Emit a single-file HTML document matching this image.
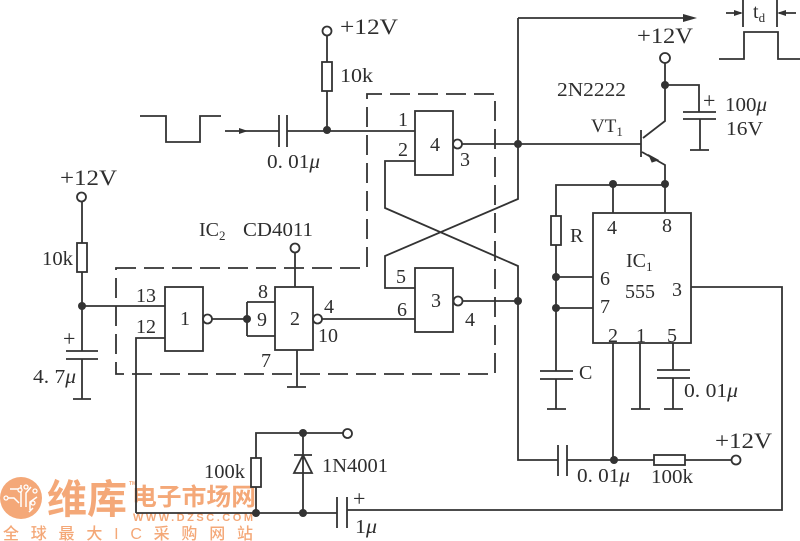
<!DOCTYPE html>
<html><head><meta charset="utf-8"><style>
html,body{margin:0;padding:0;background:#fff}
svg{display:block}
text{font-family:"Liberation Serif","Noto Serif CJK SC",serif;fill:#2e2e2e;font-size:20px}
.w text{font-family:"Liberation Sans","Noto Sans CJK SC",sans-serif;fill:#f4a878;font-weight:700;stroke:none}
.c{text-anchor:middle}
.l{fill:none;stroke:#333;stroke-width:1.8}
.o{fill:#fff;stroke:#333;stroke-width:1.8}
.d{fill:none;stroke:#333;stroke-width:1.8;stroke-dasharray:20 8}
</style></head><body>
<svg width="800" height="541" viewBox="0 0 800 541" xmlns="http://www.w3.org/2000/svg">
<rect width="800" height="541" fill="#fff"/>
<!-- watermark -->
<g class="w">
<circle cx="21" cy="498" r="21" fill="#f4a878"/>
<path d="M5 498h9l5 5M10 489l8 0 3 4v14M21 485v22M31 487l-5 6v14M37 497l-7 5v8M33 508l-4 4" fill="none" stroke="#fff" stroke-width="1.5"/>
<g fill="#f4a878" stroke="#fff" stroke-width="1.3"><circle cx="6" cy="498" r="2"/><circle cx="20" cy="490" r="2"/><circle cx="26" cy="487" r="2"/><circle cx="35" cy="491" r="2"/><circle cx="33" cy="503" r="2"/></g>
<text x="47" y="513" style="font-size:40px" textLength="80" lengthAdjust="spacingAndGlyphs">维库</text>
<text x="132" y="505" style="font-size:24px" textLength="124" lengthAdjust="spacingAndGlyphs">电子市场网</text>
<text x="129" y="485" style="font-size:5px">TM</text>
<text x="133" y="521" style="font-size:11px" textLength="120">WWW.DZSC.COM</text>
<text x="3" y="539" style="font-size:16px;font-weight:500" textLength="250">全球最大IC采购网站</text>
</g>
<!-- dashed box -->
<path class="d" d="M116 268H367V94H495V374H116Z"/>
<!-- pulses -->
<path class="l" d="M140 116H166V142H200V116H221"/>
<path class="l" d="M719 59H744V32H778V59H800M743 0V27M777 0V27M726 13H741M779 13H796"/>
<path d="M743 13l-9-3v6zM777 13l9-3v6z" fill="#333"/>
<!-- input -->
<path class="l" d="M225 131H279M287 131H415M279 115V147M287 115V147"/>
<path d="M248 131l-9-3v6z" fill="#333"/>
<path class="l" d="M327 36V62M327 91V130"/>
<rect class="o" x="322" y="62" width="10" height="29"/>
<circle class="o" cx="327" cy="31" r="4.5"/>
<circle cx="327" cy="130" r="4" fill="#333"/>
<!-- gates -->
<rect class="o" x="415" y="111" width="38" height="64"/>
<rect class="o" x="415" y="268" width="38" height="64"/>
<rect class="o" x="165" y="287" width="38" height="64"/>
<rect class="o" x="275" y="287" width="38" height="63"/>
<path class="l" d="M462 144H641M415 161H385V208L518 266V460H558M567 460H654M685 460H731M518 18V199L385 256V288H415M463 301H518M322 319H415M212 319H247M247 302V336M247 302H275M247 336H275M82 306H165M136 513V338H165M295 253V287M297 350V387M287 387H306M518 18H690"/>
<path d="M697 18l-14-4v8z" fill="#333"/>
<circle class="o" cx="457.500" cy="144" r="4.500"/>
<circle class="o" cx="458" cy="301" r="4.500"/>
<circle class="o" cx="207.500" cy="319" r="4.500"/>
<circle class="o" cx="317.500" cy="319" r="4.500"/>
<circle class="o" cx="295" cy="248" r="4.500"/>
<g fill="#333"><circle cx="518" cy="144" r="4"/><circle cx="518" cy="301" r="4"/><circle cx="247" cy="319" r="4"/><circle cx="82" cy="306" r="4"/></g>
<!-- left supply -->
<path class="l" d="M82 202V243M82 272V351M66 351H98M66 359H98M82 359V399M73 399H91"/>
<rect class="o" x="77" y="243" width="10" height="29"/>
<circle class="o" cx="81.500" cy="197" r="4.500"/>
<!-- transistor -->
<path class="l" d="M641 130V157M643 138L665 121V63M665 85H699V112M683 112H716M683 119H716M700 119V150M690 150H709M642 152L665 165V213"/>
<path d="M649 155L658 160 652 162Z" fill="#333" stroke="#333"/>
<circle class="o" cx="665" cy="58" r="5"/>
<g fill="#333"><circle cx="665" cy="85" r="4"/><circle cx="665" cy="184" r="4"/><circle cx="613" cy="184" r="4"/></g>
<!-- 555 -->
<rect class="o" x="593" y="213" width="98" height="130"/>
<path class="l" d="M556 216V185H665M613 185V213M556 245V371M556 277H593M556 308H593M540 371H573M540 379H573M556 379V409M547 409H566M640 343V409M631 409H650M673 343V370M657 370H690M657 378H690M673 378V409M664 409H683M613 343V460M691 287H782V510H347M558 445V476M567 445V476"/>
<rect class="o" x="551" y="216" width="10" height="29"/>
<g fill="#333"><circle cx="556" cy="277" r="4"/><circle cx="556" cy="308" r="4"/><circle cx="614" cy="460" r="4"/></g>
<rect class="o" x="654" y="455" width="31" height="10"/>
<circle class="o" cx="736" cy="460" r="4.500"/>
<!-- bottom -->
<path class="l" d="M136 513H337M337 497V528M347 497V528M256 513V487M256 458V433H343M303 433V513M294 455H312M303 455L294 473H312Z"/>
<rect class="o" x="251" y="458" width="10" height="29"/>
<circle class="o" cx="347.500" cy="433.500" r="4.500"/>
<g fill="#333"><circle cx="303" cy="433" r="4"/><circle cx="303" cy="513" r="4"/><circle cx="256" cy="513" r="4"/></g>
<!-- labels -->
<text x="340" y="34" textLength="58" lengthAdjust="spacingAndGlyphs" style="font-size:22px">+12V</text>
<text x="637" y="43" textLength="56" lengthAdjust="spacingAndGlyphs" style="font-size:22px">+12V</text>
<text x="60" y="185" textLength="57" lengthAdjust="spacingAndGlyphs" style="font-size:22px">+12V</text>
<text x="715" y="448" textLength="57" lengthAdjust="spacingAndGlyphs" style="font-size:22px">+12V</text>
<text x="340" y="82" textLength="33" lengthAdjust="spacingAndGlyphs">10k</text>
<text x="42" y="265" textLength="31" lengthAdjust="spacingAndGlyphs">10k</text>
<text x="267" y="168" textLength="53" lengthAdjust="spacingAndGlyphs">0. 01<tspan font-style="italic">μ</tspan></text>
<text x="684" y="397" textLength="54" lengthAdjust="spacingAndGlyphs">0. 01<tspan font-style="italic">μ</tspan></text>
<text x="577" y="482" textLength="53" lengthAdjust="spacingAndGlyphs">0. 01<tspan font-style="italic">μ</tspan></text>
<text x="33" y="383" textLength="43" lengthAdjust="spacingAndGlyphs">4. 7<tspan font-style="italic">μ</tspan></text>
<text x="557" y="96" textLength="69" lengthAdjust="spacingAndGlyphs">2N2222</text>
<text x="591" y="132" style="font-size:19px">VT<tspan dy="4" style="font-size:13px">1</tspan></text>
<text x="199" y="236">IC<tspan dy="4" style="font-size:13px">2</tspan></text>
<text x="243" y="236" textLength="70" lengthAdjust="spacingAndGlyphs">CD4011</text>
<text x="703" y="108" style="font-size:22px">+</text>
<text x="725" y="111" textLength="42" lengthAdjust="spacingAndGlyphs">100<tspan font-style="italic">μ</tspan></text>
<text x="726" y="135" textLength="37" lengthAdjust="spacingAndGlyphs">16V</text>
<text x="753" y="18" style="font-size:20px">t<tspan dy="4" style="font-size:13px">d</tspan></text>
<text x="63" y="346" style="font-size:22px">+</text>
<text x="204" y="478" textLength="41" lengthAdjust="spacingAndGlyphs">100k</text>
<text x="651" y="483" textLength="42" lengthAdjust="spacingAndGlyphs">100k</text>
<text x="322" y="472" textLength="66" lengthAdjust="spacingAndGlyphs">1N4001</text>
<text x="353" y="506" style="font-size:22px">+</text>
<text x="355" y="533" textLength="22" lengthAdjust="spacingAndGlyphs">1<tspan font-style="italic">μ</tspan></text>
<g>
<text class="c" x="403" y="126">1</text><text class="c" x="403" y="156">2</text><text class="c" x="435" y="151">4</text><text class="c" x="465" y="166">3</text>
<text class="c" x="401" y="283">5</text><text class="c" x="402" y="316">6</text><text class="c" x="436" y="307">3</text><text class="c" x="470" y="326">4</text>
<text class="c" x="146" y="302">13</text><text class="c" x="146" y="333">12</text><text class="c" x="185" y="325">1</text>
<text class="c" x="263" y="298">8</text><text class="c" x="262" y="326">9</text><text class="c" x="295" y="325">2</text><text class="c" x="329" y="313">4</text><text class="c" x="328" y="342">10</text><text class="c" x="266" y="367">7</text>
<text class="c" x="612" y="234">4</text><text class="c" x="667" y="232">8</text><text class="c" x="677" y="296">3</text><text class="c" x="605" y="285">6</text><text class="c" x="605" y="313">7</text><text class="c" x="613" y="342">2</text><text class="c" x="641" y="342">1</text><text class="c" x="672" y="342">5</text>
</g>
<text x="626" y="267">IC<tspan dy="4" style="font-size:13px">1</tspan></text>
<text x="625" y="298" textLength="30" lengthAdjust="spacingAndGlyphs">555</text>
<text x="570" y="242">R</text>
<text x="579" y="379">C</text>
</svg>
</body></html>
